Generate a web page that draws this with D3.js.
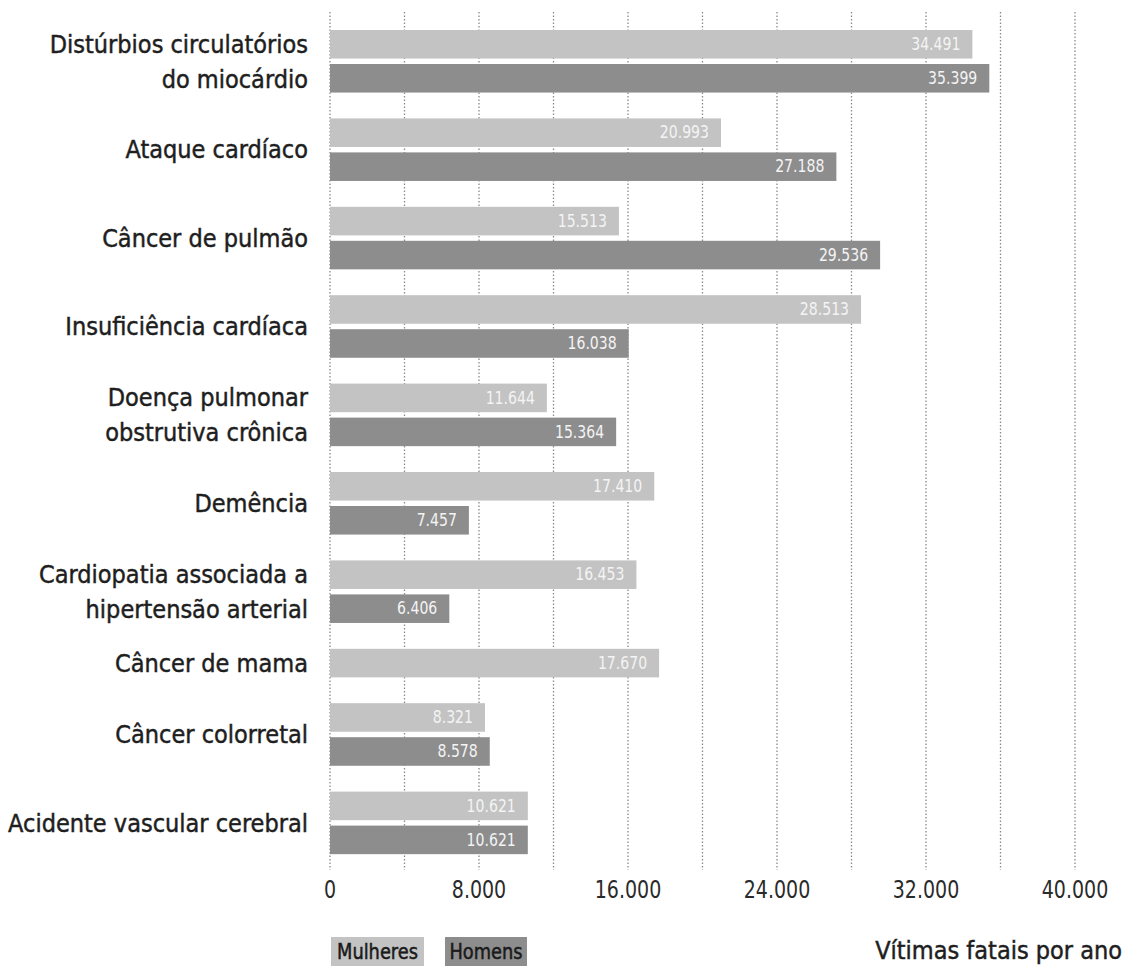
<!DOCTYPE html>
<html><head><meta charset="utf-8">
<script src="https://cdn.jsdelivr.net/npm/d3@7"></script>
<style>
body{margin:0;background:#fff;}
text{font-family:"Liberation Sans Narrow","Arial Narrow","DejaVu Sans Condensed",sans-serif;}
</style></head>
<body><svg id="c" width="1125" height="966"></svg>
<script>
const categories = [
  ["Distúrbios circulatórios","do miocárdio"],
  ["Ataque cardíaco"],
  ["Câncer de pulmão"],
  ["Insuficiência cardíaca"],
  ["Doença pulmonar","obstrutiva crônica"],
  ["Demência"],
  ["Cardiopatia associada a","hipertensão arterial"],
  ["Câncer de mama"],
  ["Câncer colorretal"],
  ["Acidente vascular cerebral"]
];
const mulheres = [34491, 20993, 15513, 28513, 11644, 17410, 16453, 17670, 8321, 10621];
const homens   = [35399, 27188, 29536, 16038, 15364, 7457, 6406, null, 8578, 10621];
const seriesNames = ["Mulheres","Homens"];
const xTicks = [0, 8000, 16000, 24000, 32000, 40000];
const gridTicks = [0,4000,8000,12000,16000,20000,24000,28000,32000,36000,40000];
const axisTitle = "Vítimas fatais por ano";

const colors = {Mulheres:"#c3c3c3", Homens:"#8d8d8d"};
const svg = d3.select("#c");
const loc = d3.formatLocale({decimal:",", thousands:".", grouping:[3], currency:["R$",""]});
const fmt = loc.format(",d");

const x = d3.scaleLinear().domain([0,40000]).range([330,1075]);

// layout in slot units: each bar is one slot, groups separated by a gap
const gapU = 0.6, barU = 0.84;
let pos = 0;
const groups = categories.map((lines,i)=>{
  const vals = [{s:"Mulheres",v:mulheres[i]},{s:"Homens",v:homens[i]}].filter(d=>d.v!=null);
  const g = {lines, start:pos, bars:vals.map((d,k)=>({...d, u:pos+k}))};
  pos += vals.length + gapU;
  g.end = g.start + vals.length - (1-barU);
  return g;
});
const totalU = pos - gapU;
const y = d3.scaleLinear().domain([0,totalU]).range([30, 30 + totalU*34]);

// grid
svg.append("g").selectAll("line").data(gridTicks).join("line")
  .attr("x1",d=>x(d)).attr("x2",d=>x(d))
  .attr("y1",12).attr("y2",870)
  .attr("stroke","#8a8a8a").attr("stroke-width",1.3).attr("stroke-dasharray","1.5,2");

// bars
const bars = groups.flatMap(g=>g.bars);
svg.append("g").selectAll("rect").data(bars).join("rect")
  .attr("x",x(0)).attr("y",d=>y(d.u))
  .attr("width",d=>x(d.v)-x(0))
  .attr("height",d=>y(d.u+barU)-y(d.u))
  .attr("fill",d=>colors[d.s]);

svg.append("g").selectAll("text").data(bars).join("text")
  .attr("transform",d=>`translate(${x(d.v)-12},${(y(d.u)+y(d.u+barU))/2}) scale(0.92,1)`)
  .attr("text-anchor","end").attr("dominant-baseline","central")
  .attr("font-size",17)
  .attr("fill","#f4f4f4").text(d=>fmt(d.v));

// category labels
const lab = svg.append("g").selectAll("text").data(groups).join("text")
  .attr("text-anchor","end").attr("font-size",25).attr("fill","#1e1e1e")
  .attr("stroke","#1e1e1e").attr("stroke-width",0.45)
  .attr("transform",d=>`translate(308,${(y(d.start)+y(d.end))/2})`);
lab.selectAll("tspan").data(d=>d.lines.map((t,i)=>({t,i,n:d.lines.length}))).join("tspan")
  .attr("x",0).attr("y",d=>(d.i-(d.n-1)/2)*35)
  .attr("dy","0.35em").text(d=>d.t);

// x tick labels
svg.append("g").selectAll("text").data(xTicks).join("text")
  .attr("transform",d=>`translate(${x(d)},890) scale(0.88,1)`).attr("dy","0.35em")
  .attr("text-anchor","middle").attr("font-size",24)
  .attr("fill","#2a2a2a").text(d=>fmt(d));

// legend
const lg = svg.append("g").selectAll("g").data(seriesNames).join("g")
  .attr("transform",(d,i)=>`translate(${[331,445][i]},937)`);
lg.append("rect").attr("width",(d,i)=>[93,82][i]).attr("height",32).attr("fill",d=>colors[d]);
lg.append("text").attr("transform",(d,i)=>`translate(${[93,82][i]/2},14) scale(0.9,1)`).attr("dy","0.35em")
  .attr("text-anchor","middle").attr("font-size",22).attr("fill","#1a1a1a")
  .attr("stroke","#1a1a1a").attr("stroke-width",0.5).text(d=>d);

svg.append("text").attr("x",1122).attr("y",950).attr("dy","0.35em")
  .attr("text-anchor","end").attr("font-size",25).attr("fill","#1e1e1e")
  .attr("stroke","#1e1e1e").attr("stroke-width",0.45).text(axisTitle);
</script></body></html>
